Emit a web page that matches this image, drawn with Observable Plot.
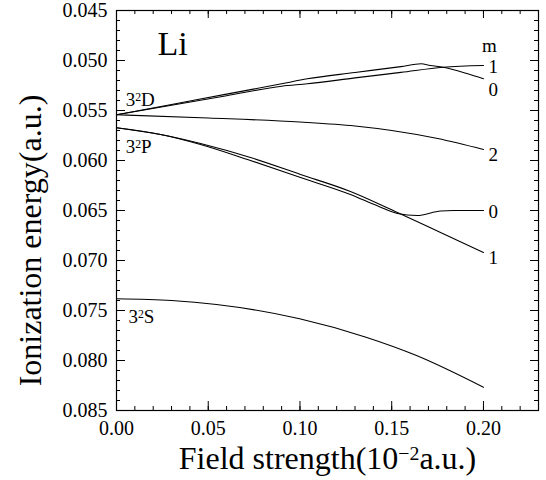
<!DOCTYPE html>
<html><head><meta charset="utf-8">
<script src="https://cdn.jsdelivr.net/npm/d3@7"></script>
<script src="https://cdn.jsdelivr.net/npm/@observablehq/plot@0.6"></script>
<style>body{margin:0;background:#fff}</style>
</head><body><div id="chart"></div>
<script>
// ---- data ----
const d0X = [0, 0.03, 0.06, 0.09, 0.104, 0.13, 0.155, 0.166, 0.171, 0.178, 0.191, 0.20];
const d0Y = [0.05543, 0.0544, 0.05336, 0.05233, 0.05183, 0.0512, 0.05061, 0.05033, 0.0505, 0.05067, 0.0513, 0.05183];
const d1X = [0, 0.03, 0.06, 0.09, 0.104, 0.13, 0.155, 0.178, 0.20];
const d1Y = [0.05543, 0.05448, 0.05353, 0.05257, 0.05233, 0.05174, 0.05119, 0.05067, 0.0505];
const d2X = [0, 0.05, 0.10, 0.13, 0.15, 0.175, 0.20];
const d2Y = [0.05543, 0.05575, 0.05615, 0.05655, 0.0570, 0.0578, 0.0589];
const p1X = [0, 0.024, 0.0458, 0.073, 0.1003, 0.1275, 0.1531, 0.1766, 0.20];
const p1Y = [0.05673, 0.0574, 0.0583, 0.0597, 0.0614, 0.0631, 0.0652, 0.0672, 0.0692];
const p0X = [0, 0.024, 0.0458, 0.073, 0.1003, 0.1275, 0.143, 0.1531, 0.1638, 0.1766, 0.1838, 0.20];
const p0Y = [0.05673, 0.0574, 0.0584, 0.0600, 0.0617, 0.0634, 0.0646, 0.0653, 0.0655, 0.06505, 0.0650, 0.0650];
const sX = [0, 0.03, 0.0545, 0.0998, 0.136, 0.1635, 0.20];
const sY = [0.07383, 0.0740, 0.0744, 0.07583, 0.07767, 0.0795, 0.08267];

const xTicks = [0, 0.05, 0.10, 0.15, 0.20];
const yTicks = [0.045, 0.050, 0.055, 0.060, 0.065, 0.070, 0.075, 0.080, 0.085];

const stateLabels = ["3²D", "3²P", "3²S"];
const stateLabelX = [0.005, 0.005, 0.0065];
const stateLabelY = [0.0539, 0.05865, 0.0756];
const mLabels = ["m", "1", "0", "2", "0", "1"];
const mLabelX = [0.2033, 0.2054, 0.2054, 0.2054, 0.2054, 0.2054];
const mLabelY = [0.0485, 0.0506, 0.0529, 0.0594, 0.0651, 0.06975];

// ---- build tables ----
const series = [["D0", d0X, d0Y], ["D1", d1X, d1Y], ["D2", d2X, d2Y], ["P1", p1X, p1Y], ["P0", p0X, p0Y], ["S", sX, sY]];
const rows = series.flatMap(([k, xs, ys]) => xs.map((x, i) => ({series: k, x, y: ys[i]})));
const states = stateLabels.map((t, i) => ({t, x: stateLabelX[i], y: stateLabelY[i]}));
const mlab = mLabels.map((t, i) => ({t, x: mLabelX[i], y: mLabelY[i]}));

const xMinor = d3.range(0, 23).map(i => i / 100);
const yMinor = d3.range(45, 86).map(i => i / 1000);

const W = 546, H = 480, ML = 116, MR = 8, MT = 10, MB = 70;
const PW = W - ML - MR, PH = H - MT - MB;
const FONT = "'Liberation Serif', 'Times New Roman', serif";

const chart = Plot.plot({
  width: W, height: H,
  marginLeft: ML, marginRight: MR, marginTop: MT, marginBottom: MB,
  style: {fontFamily: FONT, fontSize: "20px", color: "black", background: "white"},
  x: {domain: [0, 0.23], axis: null},
  y: {domain: [0.045, 0.085], reverse: true, axis: null},
  marks: [
    Plot.frame({stroke: "black", strokeWidth: 1.2}),
    // inward ticks
    Plot.tickY(yMinor, {y: d => d, insetRight: PW - 4, stroke: "black"}),
    Plot.tickY(yTicks, {y: d => d, insetRight: PW - 9, stroke: "black"}),
    Plot.tickY(yMinor, {y: d => d, insetLeft: PW - 4, stroke: "black"}),
    Plot.tickY(yTicks, {y: d => d, insetLeft: PW - 8, stroke: "black"}),
    Plot.tickX(xMinor, {x: d => d, insetTop: PH - 4, stroke: "black"}),
    Plot.tickX(xTicks, {x: d => d, insetTop: PH - 9, stroke: "black"}),
    Plot.tickX(xMinor, {x: d => d, insetBottom: PH - 4, stroke: "black"}),
    Plot.tickX(xTicks, {x: d => d, insetBottom: PH - 8, stroke: "black"}),
    // tick labels
    Plot.text(yTicks, {y: d => d, text: d3.format(".3f"), frameAnchor: "left", dx: -9, textAnchor: "end", lineAnchor: "middle", fontSize: 20, fontFamily: FONT}),
    Plot.text(xTicks, {x: d => d, text: d3.format(".2f"), frameAnchor: "bottom", dy: 18, textAnchor: "middle", lineAnchor: "middle", fontSize: 20, fontFamily: FONT}),
    Plot.line(rows, {x: "x", y: "y", z: "series", curve: "monotone-x", stroke: "black", strokeWidth: 1.1}),
    Plot.text(states, {x: "x", y: "y", text: "t", textAnchor: "start", fontSize: 19, fontFamily: FONT}),
    Plot.text(mlab, {x: "x", y: "y", text: "t", textAnchor: "middle", fontSize: 19, fontFamily: FONT}),
    Plot.text(["Li"], {text: d => d, frameAnchor: "top-left", dx: 56, dy: 34, textAnchor: "middle", lineAnchor: "middle", fontSize: 34, fontFamily: FONT}),
    Plot.text(["Field strength(10⁻²a.u.)"], {text: d => d, frameAnchor: "bottom", dy: 48, textAnchor: "middle", lineAnchor: "middle", fontSize: 32, fontFamily: FONT}),
    Plot.text(["Ionization energy(a.u.)"], {text: d => d, frameAnchor: "left", dx: -86, dy: 30, rotate: -90, textAnchor: "middle", lineAnchor: "middle", fontSize: 32, fontFamily: FONT})
  ]
});

// turn unicode superscripts into raised tspans
const supMap = {"²": "2", "⁻": "−"};
const ns = "http://www.w3.org/2000/svg";
chart.querySelectorAll("text").forEach(t => {
  if (t.children.length) return;
  const s = t.textContent;
  if (!/[²⁻]/.test(s)) return;
  const parts = s.match(/[²⁻]+|[^²⁻]+/g);
  t.textContent = "";
  let raised = false;
  parts.forEach(p => {
    const sp = document.createElementNS(ns, "tspan");
    if (/[²⁻]/.test(p)) {
      sp.textContent = [...p].map(c => supMap[c]).join("");
      sp.setAttribute("dy", "-0.42em");
      sp.setAttribute("font-size", "62%");
      raised = true;
    } else {
      sp.textContent = p;
      if (raised) { sp.setAttribute("dy", "0.26em"); raised = false; }
    }
    t.appendChild(sp);
  });
});
document.getElementById("chart").appendChild(chart);
</script>
</body></html>
